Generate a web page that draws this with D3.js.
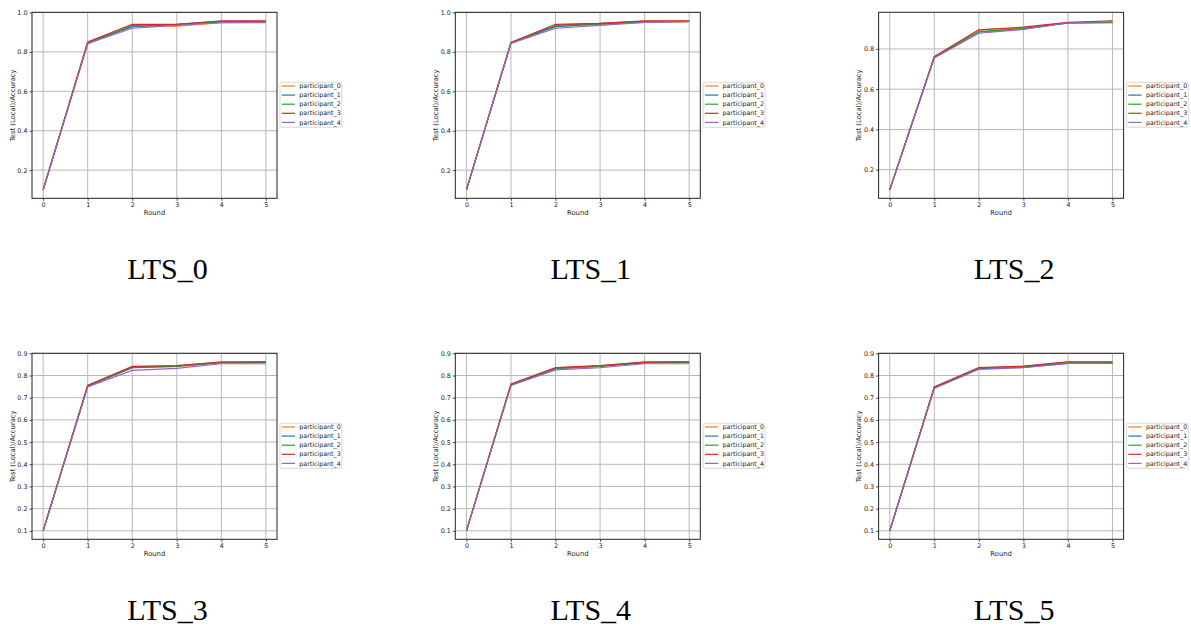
<!DOCTYPE html>
<html>
<head>
<meta charset="utf-8">
<script src="https://cdn.jsdelivr.net/npm/d3@7"></script>
<style>
  body { margin: 0; background: #fff; }
  svg { display: block; }
  .tick text { font-family: "DejaVu Sans", sans-serif; font-size: 6.4px; fill: #222; }
  .axis-label { font-family: "DejaVu Sans", sans-serif; font-size: 6.8px; fill: #222; }
  .legend-text { font-family: "DejaVu Sans", sans-serif; font-size: 6.3px; fill: #222; }
  .caption { font-family: "Liberation Serif", "DejaVu Serif", serif; font-size: 30px; fill: #000; }
</style>
</head>
<body>
<svg id="fig" width="1191" height="628"></svg>
<script>
const rounds = [0, 1, 2, 3, 4, 5];
const participants = ["participant_0", "participant_1", "participant_2", "participant_3", "participant_4"];
const colors = ["#ff7f0e", "#1f77b4", "#2ca02c", "#d62728", "#9467bd"];
const captions = ["LTS_0", "LTS_1", "LTS_2", "LTS_3", "LTS_4", "LTS_5"];

// accuracy per participant
const lts0 = [
  [0.10, 0.840, 0.930, 0.930, 0.948, 0.950],
  [0.10, 0.845, 0.928, 0.938, 0.952, 0.953],
  [0.10, 0.848, 0.935, 0.940, 0.955, 0.955],
  [0.10, 0.850, 0.940, 0.940, 0.958, 0.958],
  [0.10, 0.843, 0.920, 0.935, 0.948, 0.948]
];
const lts1 = [
  [0.10, 0.845, 0.930, 0.940, 0.950, 0.952],
  [0.10, 0.845, 0.928, 0.942, 0.952, 0.955],
  [0.10, 0.847, 0.935, 0.945, 0.955, 0.955],
  [0.10, 0.848, 0.940, 0.945, 0.958, 0.958],
  [0.10, 0.843, 0.920, 0.935, 0.950, 0.955]
];
const lts2 = [
  [0.10, 0.760, 0.895, 0.905, 0.930, 0.935],
  [0.10, 0.758, 0.885, 0.900, 0.928, 0.930],
  [0.10, 0.760, 0.885, 0.900, 0.930, 0.932],
  [0.10, 0.762, 0.895, 0.908, 0.932, 0.940],
  [0.10, 0.755, 0.878, 0.897, 0.930, 0.935]
];
const lts3 = [
  [0.10, 0.752, 0.835, 0.840, 0.858, 0.858],
  [0.10, 0.752, 0.835, 0.842, 0.858, 0.860],
  [0.10, 0.755, 0.838, 0.843, 0.860, 0.860],
  [0.10, 0.755, 0.841, 0.845, 0.861, 0.862],
  [0.10, 0.748, 0.823, 0.832, 0.853, 0.853]
];
const lts4 = [
  [0.10, 0.758, 0.830, 0.840, 0.858, 0.860],
  [0.10, 0.757, 0.832, 0.842, 0.858, 0.860],
  [0.10, 0.760, 0.833, 0.843, 0.860, 0.861],
  [0.10, 0.762, 0.836, 0.845, 0.860, 0.862],
  [0.10, 0.755, 0.825, 0.835, 0.853, 0.853]
];
const lts5 = [
  [0.10, 0.745, 0.832, 0.838, 0.858, 0.858],
  [0.10, 0.745, 0.830, 0.837, 0.855, 0.855],
  [0.10, 0.747, 0.835, 0.840, 0.860, 0.860],
  [0.10, 0.748, 0.836, 0.842, 0.862, 0.862],
  [0.10, 0.742, 0.828, 0.835, 0.855, 0.855]
];
const panelData = [lts0, lts1, lts2, lts3, lts4, lts5];

const yTicksTop = [0.2, 0.4, 0.6, 0.8, 1.0];
const yTicksBottom = [0.1, 0.2, 0.3, 0.4, 0.5, 0.6, 0.7, 0.8, 0.9];

const svg = d3.select("#fig");
const colStep = 423.3;
const rowStep = 341;
const frame = { left: 32, right: 277, top: 12.3, bottom: 198.3 };

panelData.forEach((series, i) => {
  const col = i % 3;
  const row = Math.floor(i / 3);
  const g = svg.append("g").attr("transform", `translate(${col * colStep},${row * rowStep})`);
  drawPanel(g, series, row === 0 ? yTicksTop : yTicksBottom);
  g.append("text")
    .attr("class", "caption")
    .attr("x", 167.5)
    .attr("y", 279)
    .attr("text-anchor", "middle")
    .text(captions[i]);
});

function drawPanel(g, series, yTicks) {
  const allVals = series.flat();
  const lo = d3.min(allVals);
  const hi = d3.max(allVals);
  const pad = (hi - lo) * 0.05;

  const x = d3.scaleLinear().domain([-0.25, 5.25]).range([frame.left, frame.right]);
  const y = d3.scaleLinear().domain([lo - pad, hi + pad]).range([frame.bottom, frame.top]);
  const visibleTicks = yTicks.filter((t) => t <= hi + pad + 1e-9);

  // grid
  g.append("g").selectAll("line.vg")
    .data(rounds)
    .join("line")
    .attr("x1", (d) => x(d)).attr("x2", (d) => x(d))
    .attr("y1", frame.top).attr("y2", frame.bottom)
    .attr("stroke", "#b8b8b8").attr("stroke-width", 1);
  g.append("g").selectAll("line.hg")
    .data(visibleTicks)
    .join("line")
    .attr("x1", frame.left).attr("x2", frame.right)
    .attr("y1", (d) => y(d)).attr("y2", (d) => y(d))
    .attr("stroke", "#b8b8b8").attr("stroke-width", 1);

  const line = d3.line().x((d, j) => x(rounds[j])).y((d) => y(d));
  series.forEach((vals, k) => {
    g.append("path")
      .datum(vals)
      .attr("fill", "none")
      .attr("stroke", colors[k])
      .attr("stroke-width", 1.2)
      .attr("d", line);
  });

  // axes
  const xAxis = g.append("g")
    .attr("transform", `translate(0,${frame.bottom})`)
    .call(d3.axisBottom(x).tickValues(rounds).tickSize(2.5).tickPadding(2).tickFormat(d3.format("d")));
  const yAxis = g.append("g")
    .attr("transform", `translate(${frame.left},0)`)
    .call(d3.axisLeft(y).tickValues(visibleTicks).tickSize(2.5).tickPadding(2).tickFormat(d3.format(".1f")));
  [xAxis, yAxis].forEach((a) => {
    a.select(".domain").remove();
    a.selectAll(".tick line").attr("stroke", "#222").attr("stroke-width", 0.8);
  });

  g.append("rect")
    .attr("x", frame.left).attr("y", frame.top)
    .attr("width", frame.right - frame.left)
    .attr("height", frame.bottom - frame.top)
    .attr("fill", "none")
    .attr("stroke", "#222")
    .attr("stroke-width", 1);

  g.append("text")
    .attr("class", "axis-label")
    .attr("x", (frame.left + frame.right) / 2)
    .attr("y", 215)
    .attr("text-anchor", "middle")
    .text("Round");
  g.append("text")
    .attr("class", "axis-label")
    .attr("transform", `translate(14.5,${(frame.top + frame.bottom) / 2}) rotate(-90)`)
    .attr("text-anchor", "middle")
    .text("Test (Local)/Accuracy");

  // legend
  const lg = g.append("g").attr("transform", "translate(280,82.3)");
  lg.append("rect")
    .attr("width", 61.7).attr("height", 45)
    .attr("rx", 1.5)
    .attr("fill", "#fff")
    .attr("stroke", "#d0d0d0")
    .attr("stroke-width", 0.8);
  participants.forEach((name, k) => {
    const cy = 3.7 + k * 9.1;
    lg.append("line")
      .attr("x1", 1.7).attr("x2", 15)
      .attr("y1", cy).attr("y2", cy)
      .attr("stroke", colors[k]).attr("stroke-width", 1.2);
    lg.append("text")
      .attr("class", "legend-text")
      .attr("x", 19.3).attr("y", cy + 2.2)
      .text(name);
  });
}
</script>
</body>
</html>
